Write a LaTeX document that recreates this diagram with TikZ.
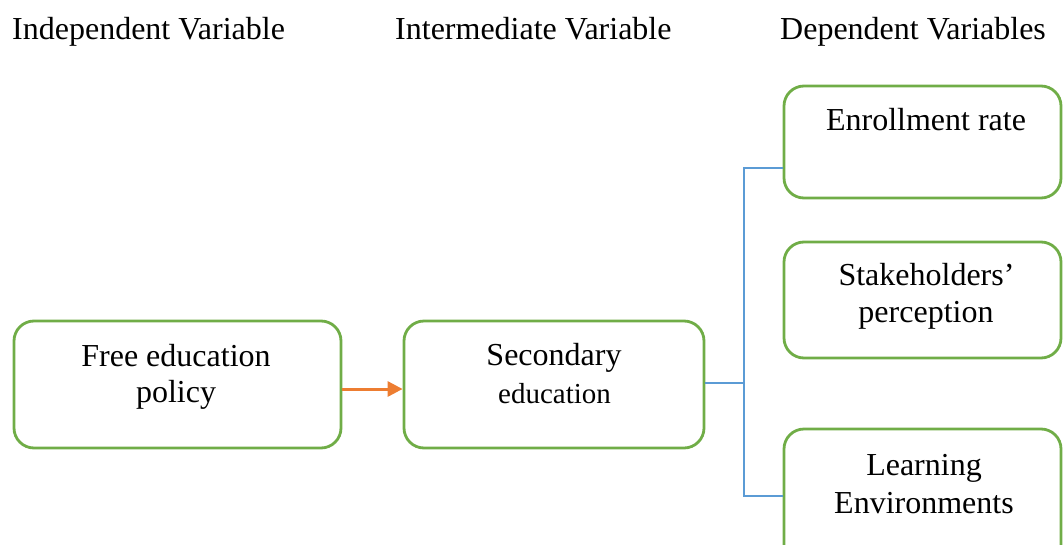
\documentclass[tikz,border=0pt]{standalone}
\usepackage{fontspec}
\setmainfont{Liberation Serif}
\usetikzlibrary{arrows.meta}
\definecolor{boxgreen}{HTML}{70AD47}
\definecolor{connblue}{HTML}{5B9BD5}
\definecolor{arrorange}{HTML}{ED7D31}
\tikzset{
  box/.style={draw=boxgreen, line width=2.8pt, rounded corners=20pt, inner sep=0pt, fill=none},
  txt/.style={anchor=base, inner sep=0pt, font=\fontsize{32}{38}\selectfont},
  smalltxt/.style={anchor=base, inner sep=0pt, font=\fontsize{29}{34}\selectfont},
  head/.style={anchor=base west, inner sep=0pt, font=\fontsize{32}{38}\selectfont},
  conn/.style={draw=connblue, line width=1.2pt},
  flow/.style={draw=arrorange, line width=3pt, -{Triangle[length=15pt,width=15pt]}}
}
\begin{document}
\begin{tikzpicture}[x=1pt,y=-1pt]
\useasboundingbox (0,0) rectangle (1063,544);
\clip (0,0) rectangle (1063,544);
% headers
\node[head] (h1) at (12,39.5) {Independent Variable};
\node[head] (h2) at (395,39.5) {Intermediate Variable};
\node[head] (h3) at (780,39.5) {Dependent Variables};
% boxes
\node[box, minimum width=327pt, minimum height=127pt] (b1) at (177.5,384.5) {};
\node[box, minimum width=300pt, minimum height=127pt] (b2) at (554,384.5) {};
\node[box, minimum width=277pt, minimum height=112pt] (d1) at (922.5,142) {};
\node[box, minimum width=277pt, minimum height=116pt] (d2) at (922.5,300) {};
\node[box, minimum width=277pt, minimum height=140pt] (d3) at (922.5,499) {};
% texts
\node[txt] (t1a) at (176,366) {Free education};
\node[txt] (t1b) at (176,402) {policy};
\node[txt] (t2a) at (554,365) {Secondary};
\node[smalltxt] (t2b) at (554.5,403) {education};
\node[txt] (td1) at (926,130) {Enrollment rate};
\node[txt] (td2a) at (926.5,285) {Stakeholders’};
\node[txt] (td2b) at (926,322) {perception};
\node[txt] (td3a) at (924,475) {Learning};
\node[txt] (td3b) at (924,513) {Environments};
% connectors
\draw[flow] ([yshift=-4.5pt]b1.east) -- ([yshift=-4.5pt]b2.west);
\coordinate (ja) at (744,168);
\coordinate (jb) at (744,496);
\draw[conn, line width=2pt] ([yshift=1.5pt]b2.east) -- ([yshift=1.5pt]b2.east -| ja);
\draw[conn] (d1.west |- ja) -- (ja) -- (jb) -- (d3.west |- jb);
\end{tikzpicture}
\end{document}
